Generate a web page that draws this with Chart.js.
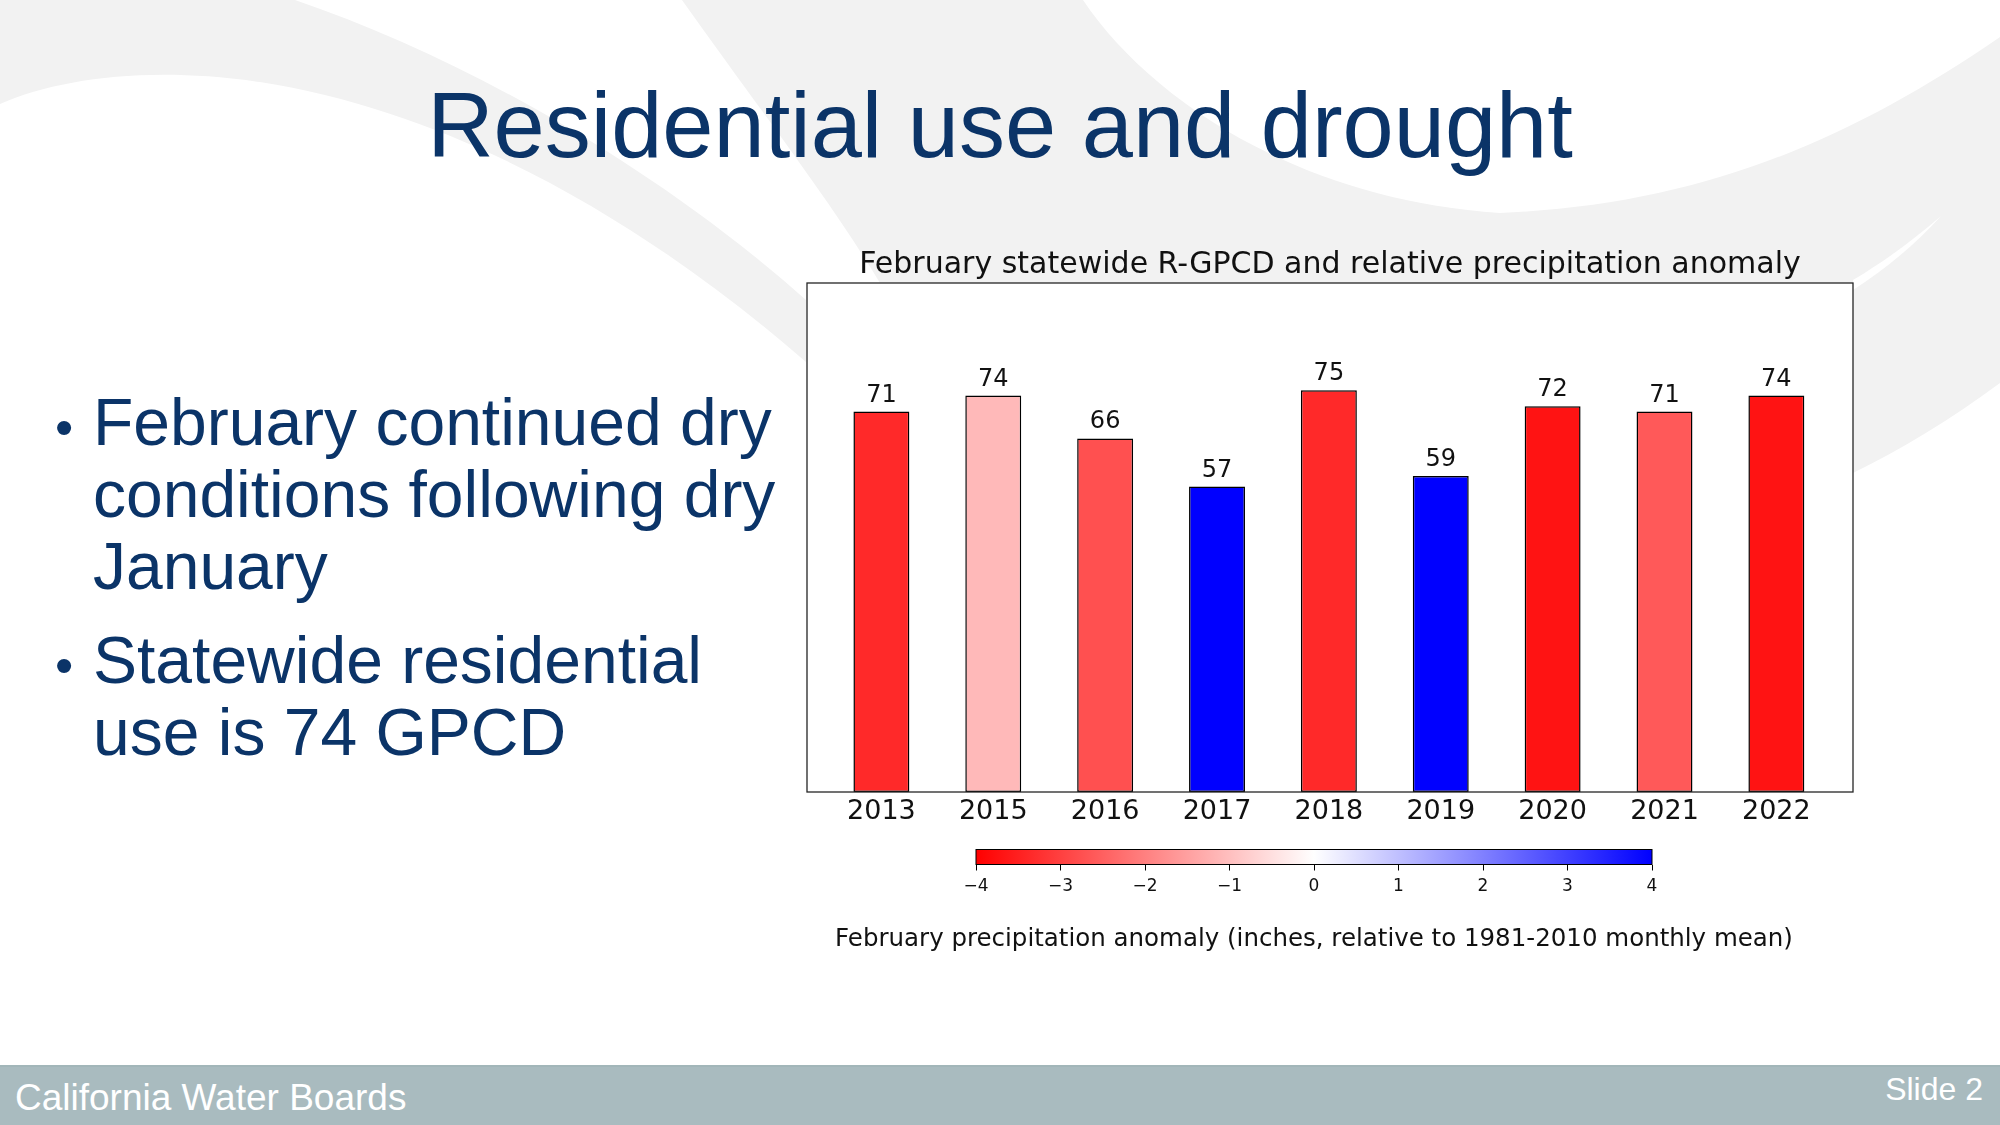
<!DOCTYPE html>
<html>
<head>
<meta charset="utf-8">
<title>Residential use and drought</title>
<script src="https://cdn.jsdelivr.net/npm/chart.js@4.4.0/dist/chart.umd.min.js"></script>
<style>
  body { margin: 0; }
  #slide {
    position: relative; width: 2000px; height: 1125px; overflow: hidden;
    background: #fff; font-family: "Liberation Sans", Arial, sans-serif;
  }
  #bg { position: absolute; left: 0; top: 0; }
  h1 {
    position: absolute; left: 0; top: 79px; width: 2000px; margin: 0;
    text-align: center; font-size: 92px; line-height: 92px; font-weight: normal; color: #0b3468;
  }
  .bullet { position: absolute; left: 93px; width: 720px; font-size: 66px; line-height: 72px; color: #0b3468; }
  .dot { position: absolute; left: 55px; font-size: 52px; line-height: 52px; color: #0b3468; }
  #footer { position: absolute; left: 0; top: 1065px; width: 2000px; height: 60px; background: #a9bbbf; border-top: 2px solid #a2b6b9; box-sizing: border-box; }
  #footer .left { position: absolute; left: 15px; top: 12px; font-size: 37px; line-height: 37px; color: #fff; }
  #footer .right { position: absolute; right: 17px; top: 6px; font-size: 32px; line-height: 32px; color: #fff; }
  canvas { position: absolute; }
</style>
</head>
<body>
<div id="slide">
  <svg id="bg" width="2000" height="1125" viewBox="0 0 2000 1125">
    <path fill="#f2f2f2" d="M0,0 L295,0 C470,60 660,170 806,300 L806,362 C660,235 470,115 260,82 C150,66 60,78 0,104 Z"/>
    <path fill="#f2f2f2" d="M682,0 L1083,0 C1150,100 1300,200 1500,213 C1700,205 1850,140 2000,37 L2000,383 C1950,420 1900,450 1853,473 L1853,700 L880,700 L880,283 C830,200 760,110 682,0 Z"/>
    <path fill="#ffffff" d="M1941,216 C1910,243 1880,264 1853,280 L1853,290 C1884,270 1914,246 1941,216 Z"/>
  </svg>

  <h1>Residential use and drought</h1>

  <div class="dot" style="top:401px">•</div>
  <div class="bullet" style="top:386px">February continued dry<br>conditions following dry<br>January</div>
  <div class="dot" style="top:639px">•</div>
  <div class="bullet" style="top:624px">Statewide residential<br>use is 74 GPCD</div>

  <canvas id="barChart" width="1120" height="620" style="left:780px; top:220px"></canvas>
  <canvas id="colorBar" width="1000" height="170" style="left:820px; top:800px"></canvas>

  <div id="footer">
    <div class="left">California Water Boards</div>
    <div class="right">Slide 2</div>
  </div>
</div>

<script>
// February R-GPCD per year, and the precipitation anomaly that colours each bar
const years = ["2013", "2015", "2016", "2017", "2018", "2019", "2020", "2021", "2022"];
const gpcd = [71, 74, 66, 57, 75, 59, 72, 71, 74];
const anomaly = [-3.35, -1.1, -2.75, 4.5, -3.35, 4.2, -3.7, -2.6, -3.7];
const cbTicks = [-4, -3, -2, -1, 0, 1, 2, 3, 4];

// reversed blue-white-red colormap on -4..4
function bwrR(v) {
    let t = (v + 4) / 8;
    t = Math.max(0, Math.min(1, t));
    let r, g, b;
    if (t < 0.5) {
        r = 255; g = b = Math.round(255 * t / 0.5);
    } else {
        r = g = Math.round(255 * (1 - (t - 0.5) / 0.5)); b = 255;
    }
    return `rgb(${r},${g},${b})`;
}

const txt = '#111';

// white plot area with a box around it
const frame = {
    id: 'frame',
    beforeDraw(chart) {
        const { ctx, chartArea: a } = chart;
        ctx.save();
        ctx.fillStyle = '#fff';
        ctx.fillRect(a.left, a.top, a.right - a.left, a.bottom - a.top);
        ctx.restore();
    },
    afterDraw(chart) {
        const { ctx, chartArea: a } = chart;
        ctx.save();
        ctx.strokeStyle = '#262626';
        ctx.lineWidth = 1.3;
        ctx.strokeRect(a.left, a.top, a.right - a.left, a.bottom - a.top);
        ctx.restore();
    }
};

// value above each bar
const barLabels = {
    id: 'barLabels',
    afterDatasetsDraw(chart) {
        const ctx = chart.ctx;
        ctx.save();
        ctx.font = '24px "DejaVu Sans"';
        ctx.fillStyle = txt;
        ctx.textAlign = 'center';
        ctx.textBaseline = 'alphabetic';
        chart.getDatasetMeta(0).data.forEach((bar, i) => {
            ctx.fillText(String(gpcd[i]), bar.x, bar.y - 10);
        });
        ctx.restore();
    }
};

new Chart(document.getElementById('barChart'), {
    type: 'bar',
    data: {
        datasets: [{
            data: gpcd.map((v, i) => ({ x: i, y: v })),
            backgroundColor: anomaly.map(bwrR),
            borderColor: '#000',
            borderWidth: 1.5,
            borderSkipped: false,
            barPercentage: 0.5,
            categoryPercentage: 1
        }]
    },
    options: {
        responsive: false,
        animation: false,
        layout: { padding: { left: 27, right: 47, top: 0, bottom: 7.6 } },
        plugins: {
            legend: { display: false },
            tooltip: { enabled: false },
            title: {
                display: true,
                text: 'February statewide R-GPCD and relative precipitation anomaly',
                color: txt,
                font: { family: 'DejaVu Sans', size: 30, weight: 'normal' },
                padding: { top: 27, bottom: 0 }
            }
        },
        scales: {
            x: {
                type: 'linear',
                min: -0.665,
                max: 8.685,
                bounds: 'data',
                offset: false,
                grid: { display: false, drawTicks: false },
                border: { display: false },
                afterBuildTicks: s => { s.ticks = years.map((_, i) => ({ value: i })); },
                ticks: {
                    callback: v => years[v],
                    color: txt,
                    font: { family: 'DejaVu Sans', size: 27 },
                    padding: 4,
                    maxRotation: 0,
                    autoSkip: false
                }
            },
            y: { display: false, min: 0, max: 95 }
        }
    },
    plugins: [barLabels, frame]
});

// colorbar: gradient strip along the bottom of the plot area, label under the ticks
const cbLabel = 'February precipitation anomaly (inches, relative to 1981-2010 monthly mean)';
const cbFill = {
    id: 'cbFill',
    beforeDatasetsDraw(chart) {
        const { ctx, chartArea: a } = chart;
        const top = a.bottom - 15;
        const g = ctx.createLinearGradient(a.left, 0, a.right, 0);
        cbTicks.forEach(v => g.addColorStop((v + 4) / 8, bwrR(v)));
        ctx.save();
        ctx.fillStyle = g;
        ctx.fillRect(a.left, top, a.right - a.left, a.bottom - top);
        ctx.strokeStyle = '#000';
        ctx.lineWidth = 1;
        ctx.strokeRect(a.left, top, a.right - a.left, a.bottom - top);
        ctx.restore();
    },
    afterDraw(chart) {
        const { ctx, chartArea: a, scales: { x } } = chart;
        ctx.save();
        ctx.font = '24.5px "DejaVu Sans"';
        ctx.fillStyle = txt;
        ctx.textAlign = 'center';
        ctx.textBaseline = 'middle';
        ctx.fillText(cbLabel, (a.left + a.right) / 2, x.bottom + 37);
        ctx.restore();
    }
};

new Chart(document.getElementById('colorBar'), {
    type: 'scatter',
    data: { datasets: [{ data: [] }] },
    options: {
        responsive: false,
        animation: false,
        layout: { padding: { left: 156, right: 168, top: 0, bottom: 67.1 } },
        plugins: { legend: { display: false }, tooltip: { enabled: false } },
        scales: {
            x: {
                type: 'linear',
                min: -4,
                max: 4,
                bounds: 'data',
                afterBuildTicks: s => { s.ticks = cbTicks.map(v => ({ value: v })); },
                grid: { drawOnChartArea: false, drawTicks: true, tickLength: 6, color: '#000', lineWidth: 1 },
                border: { display: false },
                ticks: {
                    callback: v => v < 0 ? '\u2212' + Math.abs(v) : String(v),
                    color: txt,
                    font: { family: 'DejaVu Sans', size: 17 },
                    padding: 6,
                    maxRotation: 0,
                    autoSkip: false
                }
            },
            y: { display: false, min: 0, max: 1 }
        }
    },
    plugins: [cbFill]
});
</script>
</body>
</html>
